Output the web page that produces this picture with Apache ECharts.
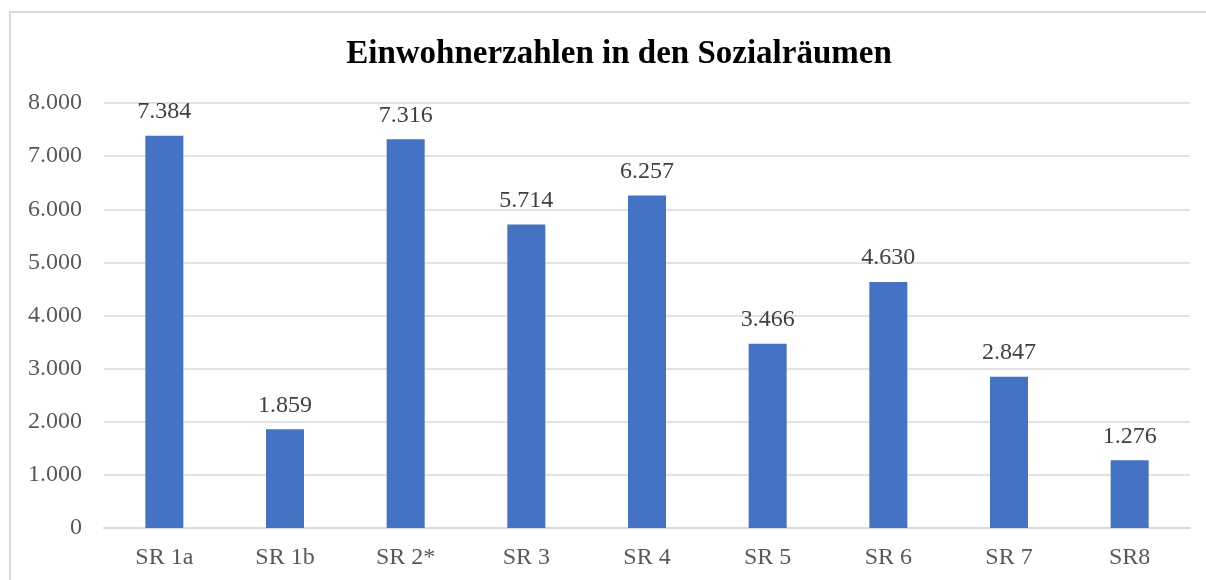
<!DOCTYPE html>
<html lang="de">
<head>
    <meta charset="UTF-8">
    <title>Einwohnerzahlen in den Sozialräumen</title>
    <script src="https://cdn.jsdelivr.net/npm/echarts@6/dist/echarts.min.js"></script>
    <style>
        html, body { margin: 0; padding: 0; background: #fff; }
        #main { width: 1206px; height: 580px; }
    </style>
</head>
<body>
<div id="main"></div>
<script>
    // Daten
    var kategorien = ['SR 1a', 'SR 1b', 'SR 2*', 'SR 3', 'SR 4', 'SR 5', 'SR 6', 'SR 7', 'SR8'];
    var einwohner = [7384, 1859, 7316, 5714, 6257, 3466, 4630, 2847, 1276];

    // deutsche Tausendertrennung: 7384 -> 7.384
    function fmt(v) {
        return String(v).replace(/\B(?=(\d{3})+(?!\d))/g, '.');
    }

    var myChart = echarts.init(document.getElementById('main'));
    var schrift = '"Liberation Serif", "DejaVu Serif", serif';

    var option = {
        animation: false,
        title: {
            text: 'Einwohnerzahlen in den Sozialräumen',
            left: 614,
            textAlign: 'center',
            top: 33,
            textStyle: {
                fontFamily: schrift,
                fontSize: 33,
                fontWeight: 'bold',
                color: '#000'
            }
        },
        graphic: [{
            type: 'rect',
            shape: { x: 10, y: 12, width: 1300, height: 700 },
            style: { fill: 'none', stroke: '#d9d9d9', lineWidth: 2 },
            silent: true
        }],
        grid: {
            left: 104,
            right: 16,
            top: 103,
            bottom: 52
        },
        xAxis: {
            type: 'category',
            data: kategorien,
            axisTick: { show: false },
            axisLine: { lineStyle: { color: '#d9d9d9', width: 2 } },
            axisLabel: {
                color: '#595959',
                fontFamily: schrift,
                fontSize: 24,
                margin: 18
            }
        },
        yAxis: {
            type: 'value',
            min: 0,
            max: 8000,
            interval: 1000,
            axisLine: { show: false },
            axisTick: { show: false },
            splitLine: { lineStyle: { color: '#d9d9d9', width: 1.5 } },
            axisLabel: {
                color: '#595959',
                fontFamily: schrift,
                fontSize: 24,
                margin: 22,
                formatter: function (v) { return fmt(v); }
            }
        },
        series: [{
            name: 'Einwohner',
            type: 'bar',
            data: einwohner,
            barWidth: 38,
            itemStyle: { color: '#4472c4' },
            label: {
                show: true,
                position: 'top',
                distance: 12,
                color: '#404040',
                fontFamily: schrift,
                fontSize: 24,
                formatter: function (p) { return fmt(p.value); }
            }
        }]
    };

    myChart.setOption(option);
</script>
</body>
</html>
